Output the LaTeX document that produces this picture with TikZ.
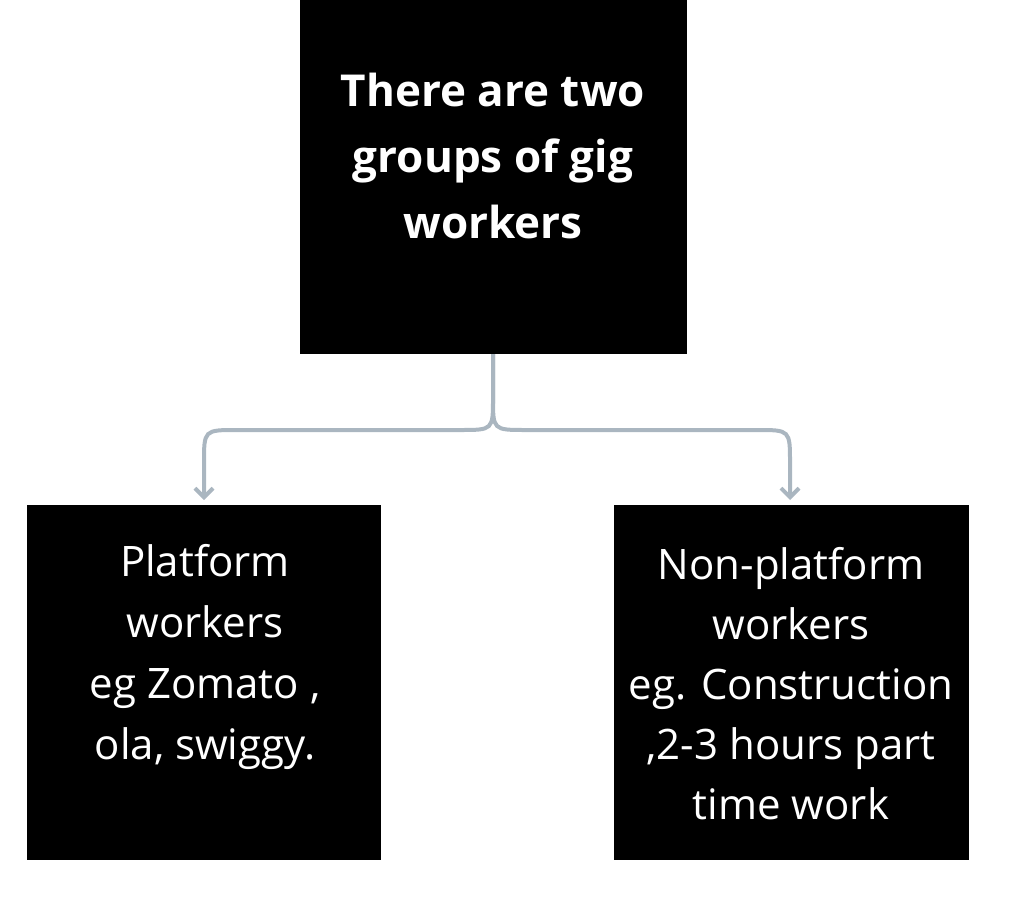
\documentclass[tikz,border=0pt]{standalone}
\usepackage{fontspec}
\setmainfont{Open Sans}
\usetikzlibrary{arrows.meta}
\begin{document}
\begin{tikzpicture}[x=1pt,y=-1pt,
  box/.style={fill=black,text=white,inner sep=0pt,align=center},
  conn/.style={draw={rgb,255:red,170;green,182;blue,192},line width=4pt,-{Straight Barb[length=9pt,width=18pt]}}]
\useasboundingbox (0,0) rectangle (1024,920);
\fill[black] (300,0) rectangle (687,354);
\fill[black] (27,505) rectangle (381,860);
\fill[black] (614,505) rectangle (969,860);
\node[box,font=\fontsize{44}{66}\selectfont\bfseries] (top) at (493,156) {There are two\\groups of gig\\workers};
\node[box,font=\fontsize{42}{61}\selectfont] (left) at (205,657) {Platform\\workers\\eg Zomato ,\\ola, swiggy.};
\node[box,font=\fontsize{42}{60}\selectfont] (right) at (791,684) {Non-platform\\workers\\eg. Construction\\,2-3 hours part\\time work};
\coordinate (s) at (493,354);
\coordinate (lt) at (204,500);
\coordinate (rt) at (790,500);
\draw[conn] (s) -- (493,398) .. controls (493,430) .. (460,430) -- (237,430) .. controls (204,430) .. (204,463) -- (lt);
\draw[conn] (s) -- (493,398) .. controls (493,430) .. (526,430) -- (757,430) .. controls (790,430) .. (790,463) -- (rt);
\end{tikzpicture}
\end{document}
